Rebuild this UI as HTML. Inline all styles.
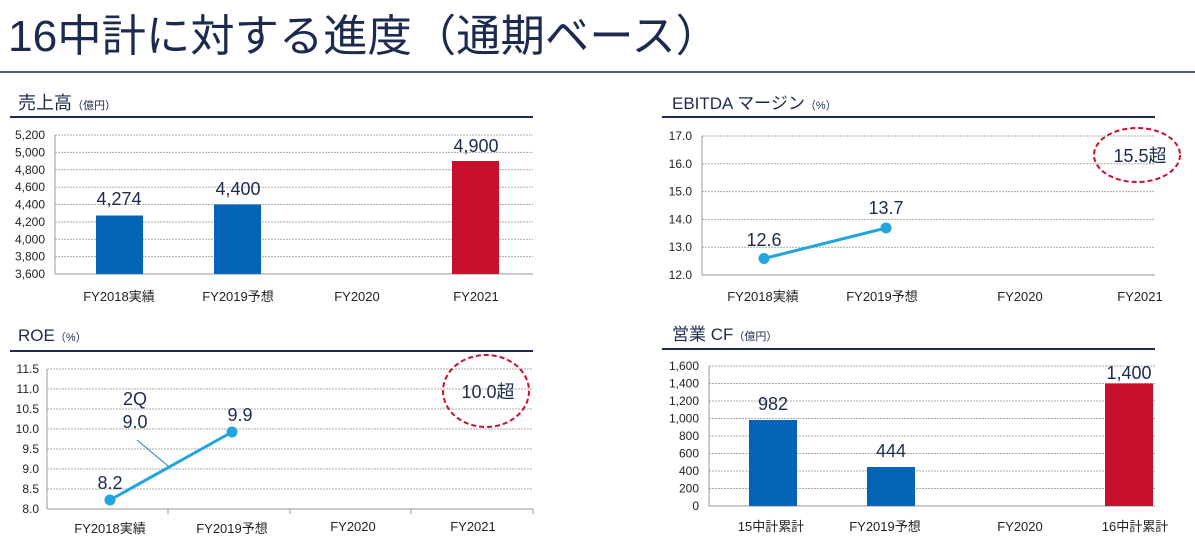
<!DOCTYPE html>
<html><head><meta charset="utf-8"><style>
html,body{margin:0;padding:0;background:#fff;}
svg{display:block;font-family:"Liberation Sans","Noto Sans CJK JP",sans-serif;}
.t{fill:#1b2a4e}
.tk{font-size:12px;fill:#222;text-anchor:end}
.xl{font-size:13px;fill:#222;text-anchor:middle}
.v{font-size:18px;fill:#1b2a4e;text-anchor:middle}
.g{stroke:#aaa;stroke-width:1;stroke-dasharray:2 1}
.ax{stroke:#999;stroke-width:1}
.hl{stroke:#1b2a4e;stroke-width:2}
</style></head><body>
<svg width="1195" height="554" viewBox="0 0 1195 554">
<text x="8" y="51" class="t" font-size="44" textLength="712" lengthAdjust="spacingAndGlyphs">16中計に対する進度（通期ベース）</text>
<line x1="0" y1="72" x2="1195" y2="72" stroke="#1b2a4e" stroke-width="1.5"/>

<!-- Sales -->
<text x="18" y="109" class="t" font-size="18">売上高<tspan font-size="11">（億円）</tspan></text>
<line x1="10" y1="117" x2="533" y2="117" class="hl"/>
<g>
<line x1="55" y1="135" x2="533" y2="135" class="g"/><line x1="55" y1="152.4" x2="533" y2="152.4" class="g"/>
<line x1="55" y1="169.75" x2="533" y2="169.75" class="g"/><line x1="55" y1="187.1" x2="533" y2="187.1" class="g"/>
<line x1="55" y1="204.5" x2="533" y2="204.5" class="g"/><line x1="55" y1="221.9" x2="533" y2="221.9" class="g"/>
<line x1="55" y1="239.25" x2="533" y2="239.25" class="g"/><line x1="55" y1="256.6" x2="533" y2="256.6" class="g"/>
<line x1="55" y1="274" x2="533" y2="274" class="ax"/><line x1="55" y1="135" x2="55" y2="274" class="ax"/>
<text x="45" y="139" class="tk">5,200</text><text x="45" y="156.4" class="tk">5,000</text><text x="45" y="173.75" class="tk">4,800</text>
<text x="45" y="191.1" class="tk">4,600</text><text x="45" y="208.5" class="tk">4,400</text><text x="45" y="225.9" class="tk">4,200</text>
<text x="45" y="243.25" class="tk">4,000</text><text x="45" y="260.6" class="tk">3,800</text><text x="45" y="278" class="tk">3,600</text>
<rect x="96" y="215.5" width="47" height="58.5" fill="#0563b8"/>
<rect x="214" y="204.5" width="47" height="69.5" fill="#0563b8"/>
<rect x="452" y="161" width="47" height="113" fill="#c8102e"/>
<text x="119" y="205" class="v">4,274</text><text x="238" y="195" class="v">4,400</text><text x="476" y="152" class="v">4,900</text>
<text x="119" y="301" class="xl">FY2018実績</text><text x="238" y="301" class="xl">FY2019予想</text>
<text x="357" y="301" class="xl">FY2020</text><text x="476" y="301" class="xl">FY2021</text>
</g>

<!-- EBITDA -->
<text x="672" y="109" class="t" font-size="17">EBITDA マージン<tspan font-size="11">（%）</tspan></text>
<line x1="662" y1="117" x2="1155" y2="117" class="hl"/>
<g>
<line x1="702" y1="136" x2="1155" y2="136" class="g"/><line x1="702" y1="163.8" x2="1155" y2="163.8" class="g"/>
<line x1="702" y1="191.6" x2="1155" y2="191.6" class="g"/><line x1="702" y1="219.4" x2="1155" y2="219.4" class="g"/>
<line x1="702" y1="247.2" x2="1155" y2="247.2" class="g"/>
<line x1="702" y1="275" x2="1155" y2="275" class="ax"/><line x1="702" y1="136" x2="702" y2="275" class="ax"/>
<text x="692" y="140" class="tk">17.0</text><text x="692" y="167.8" class="tk">16.0</text><text x="692" y="195.6" class="tk">15.0</text>
<text x="692" y="223.4" class="tk">14.0</text><text x="692" y="251.2" class="tk">13.0</text><text x="692" y="279" class="tk">12.0</text>
<line x1="764" y1="258.5" x2="886" y2="228" stroke="#22a5df" stroke-width="3"/>
<circle cx="764" cy="258.5" r="5.5" fill="#22a5df"/><circle cx="886" cy="228" r="5.5" fill="#22a5df"/>
<text x="764" y="246" class="v">12.6</text><text x="886" y="214" class="v">13.7</text>
<ellipse cx="1137" cy="155" rx="43" ry="27" fill="none" stroke="#c8102e" stroke-width="2" stroke-dasharray="5 3"/>
<text x="1140" y="162" class="v" font-size="17">15.5超</text>
<text x="763" y="301" class="xl">FY2018実績</text><text x="882" y="301" class="xl">FY2019予想</text>
<text x="1020" y="301" class="xl">FY2020</text><text x="1140" y="301" class="xl">FY2021</text>
</g>

<!-- ROE -->
<text x="18" y="341" class="t" font-size="17">ROE<tspan font-size="11">（%）</tspan></text>
<line x1="10" y1="351" x2="533" y2="351" class="hl"/>
<g>
<line x1="47" y1="369" x2="533" y2="369" class="g"/><line x1="47" y1="389" x2="533" y2="389" class="g"/>
<line x1="47" y1="409" x2="533" y2="409" class="g"/><line x1="47" y1="429" x2="533" y2="429" class="g"/>
<line x1="47" y1="449" x2="533" y2="449" class="g"/><line x1="47" y1="469" x2="533" y2="469" class="g"/>
<line x1="47" y1="489" x2="533" y2="489" class="g"/>
<line x1="47" y1="509" x2="533" y2="509" class="ax"/><line x1="47" y1="369" x2="47" y2="509" class="ax"/>
<line x1="168" y1="509" x2="168" y2="514" class="ax"/><line x1="290" y1="509" x2="290" y2="514" class="ax"/>
<line x1="411" y1="509" x2="411" y2="514" class="ax"/><line x1="533" y1="509" x2="533" y2="514" class="ax"/>
<text x="39" y="373" class="tk">11.5</text><text x="39" y="393" class="tk">11.0</text><text x="39" y="413" class="tk">10.5</text>
<text x="39" y="433" class="tk">10.0</text><text x="39" y="453" class="tk">9.5</text><text x="39" y="473" class="tk">9.0</text>
<text x="39" y="493" class="tk">8.5</text><text x="39" y="513" class="tk">8.0</text>
<line x1="137" y1="440" x2="168" y2="466" stroke="#1a8aa0" stroke-width="1"/>
<line x1="110" y1="500" x2="232" y2="432" stroke="#22a5df" stroke-width="3"/>
<circle cx="110" cy="500" r="5.5" fill="#22a5df"/><circle cx="232" cy="432" r="5.5" fill="#22a5df"/>
<text x="110" y="489" class="v">8.2</text><text x="240" y="421" class="v">9.9</text>
<text x="135" y="405" class="v">2Q</text><text x="135" y="428" class="v">9.0</text>
<ellipse cx="486" cy="391" rx="43" ry="36" fill="none" stroke="#c8102e" stroke-width="2" stroke-dasharray="5 3"/>
<text x="488" y="398" class="v" font-size="17">10.0超</text>
<text x="110" y="533" class="xl">FY2018実績</text><text x="232" y="533" class="xl">FY2019予想</text>
<text x="353" y="531" class="xl">FY2020</text><text x="473" y="531" class="xl">FY2021</text>
</g>

<!-- CF -->
<text x="672" y="340" class="t" font-size="17">営業 CF<tspan font-size="11">（億円）</tspan></text>
<line x1="662" y1="349" x2="1155" y2="349" class="hl"/>
<g>
<line x1="709" y1="366" x2="1155" y2="366" class="g"/><line x1="709" y1="383.5" x2="1155" y2="383.5" class="g"/>
<line x1="709" y1="401" x2="1155" y2="401" class="g"/><line x1="709" y1="418.5" x2="1155" y2="418.5" class="g"/>
<line x1="709" y1="436" x2="1155" y2="436" class="g"/><line x1="709" y1="453.5" x2="1155" y2="453.5" class="g"/>
<line x1="709" y1="471" x2="1155" y2="471" class="g"/><line x1="709" y1="488.5" x2="1155" y2="488.5" class="g"/>
<line x1="709" y1="506" x2="1155" y2="506" class="ax"/><line x1="709" y1="366" x2="709" y2="506" class="ax"/>
<text x="699" y="370" class="tk">1,600</text><text x="699" y="387.5" class="tk">1,400</text><text x="699" y="405" class="tk">1,200</text>
<text x="699" y="422.5" class="tk">1,000</text><text x="699" y="440" class="tk">800</text><text x="699" y="457.5" class="tk">600</text>
<text x="699" y="475" class="tk">400</text><text x="699" y="492.5" class="tk">200</text><text x="699" y="510" class="tk">0</text>
<rect x="749" y="420" width="48" height="86" fill="#0563b8"/>
<rect x="867" y="467" width="48" height="39" fill="#0563b8"/>
<rect x="1105" y="383.5" width="48" height="122.5" fill="#c8102e"/>
<text x="773" y="410" class="v">982</text><text x="891" y="457" class="v">444</text><text x="1129" y="379" class="v">1,400</text>
<text x="771" y="531" class="xl">15中計累計</text><text x="885" y="531" class="xl">FY2019予想</text>
<text x="1020" y="531" class="xl">FY2020</text><text x="1135" y="531" class="xl">16中計累計</text>
</g>
</svg>
</body></html>
